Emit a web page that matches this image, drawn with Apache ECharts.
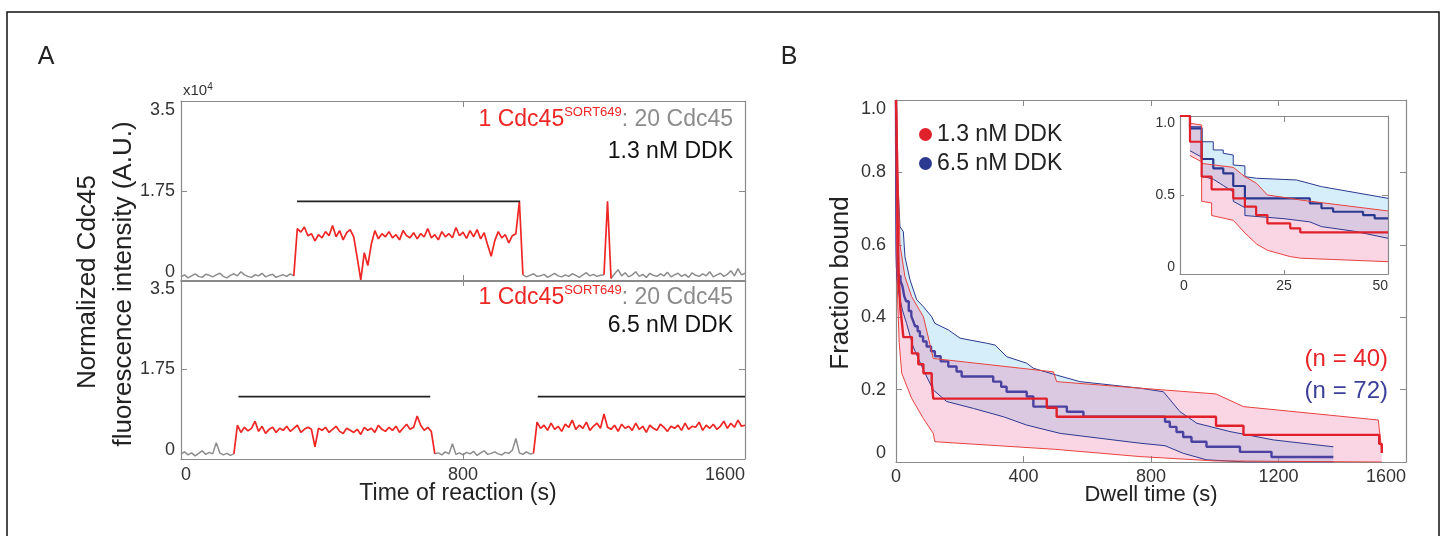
<!DOCTYPE html>
<html><head><meta charset="utf-8">
<script src="https://cdn.jsdelivr.net/npm/echarts@6/dist/echarts.min.js"></script>
<style>html,body{margin:0;padding:0;background:#fff}#c{width:1444px;height:536px}</style>
</head><body><div id="c"></div>
<script>
// ---------------- DATA ----------------
// Panel A: intensity traces (x10^4 A.U.), one value every SAMPLE_STEP seconds from t = 0
const SAMPLE_STEP = 10;
const topTrace = [
  0.08,0.12,0.06,0.10,0.14,0.09,0.07,0.13,0.11,0.08,
  0.12,0.15,0.09,0.06,0.11,0.14,0.10,0.18,0.12,0.09,
  0.07,0.12,0.10,0.15,0.08,0.11,0.13,0.07,0.10,0.12,
  0.09,0.14,0.10,1.02,0.95,1.05,0.88,0.92,0.78,0.90,
  0.84,0.96,0.88,1.08,0.86,0.98,0.80,0.94,1.00,0.86,
  0.45,0.02,0.55,0.30,0.72,0.98,0.82,0.92,0.86,0.96,
  0.84,0.90,0.80,0.98,0.88,0.84,0.94,0.82,0.92,0.86,
  1.02,0.84,0.90,0.80,0.96,0.86,0.92,0.84,1.04,0.88,
  0.95,0.83,0.98,0.86,1.00,0.82,0.94,0.70,0.48,0.78,
  0.96,0.84,0.90,0.74,0.88,0.92,1.55,0.12,0.08,0.11,
  0.14,0.09,0.10,0.13,0.07,0.11,0.15,0.10,0.08,0.12,
  0.09,0.14,0.11,0.07,0.12,0.16,0.10,0.13,0.09,0.11,
  0.12,1.55,0.05,0.14,0.22,0.10,0.16,0.08,0.12,0.18,
  0.09,0.13,0.07,0.15,0.11,0.09,0.14,0.10,0.17,0.08,
  0.12,0.15,0.09,0.13,0.07,0.16,0.11,0.09,0.14,0.10,
  0.18,0.08,0.12,0.15,0.09,0.13,0.20,0.10,0.24,0.12,
  0.15
];
const bottomTrace = [
  0.10,0.14,0.08,0.12,0.06,0.11,0.16,0.09,0.13,0.10,
  0.32,0.12,0.08,0.11,0.07,0.10,0.66,0.52,0.62,0.55,
  0.60,0.74,0.54,0.64,0.50,0.58,0.62,0.52,0.60,0.56,
  0.64,0.54,0.60,0.66,0.52,0.58,0.62,0.58,0.24,0.60,
  0.56,0.62,0.52,0.58,0.64,0.54,0.50,0.60,0.56,0.52,
  0.58,0.48,0.62,0.56,0.60,0.52,0.66,0.58,0.54,0.62,
  0.56,0.64,0.52,0.60,0.68,0.58,0.62,0.84,0.66,0.56,
  0.62,0.54,0.10,0.12,0.08,0.14,0.10,0.30,0.09,0.12,
  0.08,0.13,0.10,0.15,0.07,0.12,0.16,0.09,0.11,0.14,
  0.10,0.08,0.13,0.11,0.17,0.40,0.12,0.09,0.14,0.10,
  0.11,0.72,0.60,0.66,0.56,0.70,0.58,0.64,0.54,0.68,
  0.62,0.76,0.58,0.66,0.60,0.72,0.56,0.64,0.70,0.60,
  0.88,0.62,0.58,0.66,0.54,0.68,0.60,0.64,0.56,0.70,
  0.58,0.64,0.52,0.66,0.60,0.56,0.68,0.62,0.54,0.64,
  0.60,0.66,0.56,0.70,0.58,0.64,0.62,0.72,0.56,0.66,
  0.60,0.68,0.58,0.64,0.74,0.60,0.70,0.62,0.76,0.64,
  0.66
];
// index ranges (inclusive) of the samples drawn in red (labelled Cdc45)
const topRedRanges = [[33, 96], [121, 121]];
const bottomRedRanges = [[16, 71], [101, 160]];
// dwell bars: [start s, end s, height]
const topBars = [[329, 962, 1.55]];
const bottomBars = [[163, 707, 1.22], [1012, 1600, 1.22]];
const aTimeTicks = [0, 800, 1600];
const aIntensityTicks = [0, 1.75, 3.5];

// Panel B: survival (fraction bound) vs dwell time (s)
const redKm = [[0,1.0],[3,0.85],[6,0.62],[9,0.5],[14,0.42],[18,0.39],[23,0.345],[50,0.3],[70,0.27],[86,0.245],[112,0.22],[117,0.175],[473,0.15],[504,0.125],[1004,0.1],[1090,0.075],[1516,0.05],[1524,0.025]];
const redUpper = [[0,1.0],[3,0.96],[6,0.8],[12.5,0.6],[28,0.512],[49,0.457],[86,0.401],[117,0.286],[494,0.249],[504,0.222],[765,0.204],[1004,0.188],[1090,0.153],[1513,0.116],[1524,0.03]];
const redLower = [[0,0.9],[2,0.6],[5,0.45],[10,0.33],[18,0.245],[49,0.176],[86,0.12],[117,0.079],[122,0.056],[500,0.035],[765,0.015],[1000,0.003],[1524,0]];
const blueKm = [[0,1.0],[0.5,0.85],[1,0.7],[2,0.58],[3,0.54],[6,0.514],[14,0.5],[20,0.486],[26,0.458],[32,0.444],[40,0.417],[48,0.403],[54,0.389],[60,0.375],[68,0.361],[75,0.347],[85,0.333],[96,0.319],[110,0.306],[122,0.292],[140,0.278],[164,0.264],[190,0.25],[206,0.236],[305,0.222],[330,0.208],[347,0.194],[410,0.181],[431,0.153],[536,0.139],[588,0.125],[844,0.111],[859,0.097],[880,0.083],[901,0.069],[927,0.056],[974,0.042],[1079,0.028],[1178,0.014],[1372,0.014]];
const blueUpper = [[0,1.0],[2,0.853],[7,0.751],[12.5,0.65],[23,0.636],[28,0.567],[44,0.503],[65,0.448],[86,0.429],[112,0.401],[122,0.383],[164,0.365],[201,0.342],[285,0.328],[311,0.323],[347,0.291],[410,0.273],[431,0.259],[504,0.24],[577,0.222],[765,0.204],[839,0.194],[891,0.139],[944,0.107],[1048,0.084],[1184,0.061],[1372,0.042]];
const blueLower = [[0,0.95],[1,0.6],[2,0.512],[10,0.46],[20,0.42],[33,0.383],[54,0.318],[86,0.254],[117,0.199],[159,0.167],[243,0.148],[337,0.125],[410,0.102],[515,0.079],[765,0.052],[844,0.045],[901,0.024],[974,0.006],[1100,0],[1372,0]];
const bTimeTicks = [0, 400, 800, 1200, 1600];
const bFracTicks = [0, 0.2, 0.4, 0.6, 0.8, 1.0];

// Inset: first 50 s
const insetRedKm = [[0,1.0],[2.4,0.837],[5.2,0.616],[7.6,0.536],[12.8,0.479],[15.6,0.426],[18.3,0.373],[21,0.32],[26.5,0.289],[28.9,0.264],[50,0.264]];
const insetRedUpper = [[2.4,0.954],[5.2,0.943],[5.2,0.70],[12.8,0.675],[15.6,0.616],[18.4,0.574],[21,0.5],[26.5,0.479],[29,0.468],[50,0.399]];
const insetRedLower = [[2.4,0.75],[5.2,0.71],[5.2,0.46],[7.6,0.45],[7.6,0.37],[12.8,0.34],[15.6,0.26],[18.4,0.19],[21,0.15],[26.5,0.11],[29,0.1],[50,0.078]];
const insetBlueKm = [[0,1.0],[2.4,0.922],[5.2,0.728],[8,0.669],[10.4,0.637],[12.8,0.557],[15.6,0.479],[31.2,0.447],[34,0.416],[36.8,0.394],[44,0.373],[46.8,0.352],[50,0.352]];
const insetBlueUpper = [[2.4,0.932],[5.2,0.932],[5.2,0.837],[8,0.837],[8,0.785],[10.4,0.785],[10.4,0.764],[12.8,0.753],[12.8,0.69],[15.6,0.684],[15.6,0.616],[18.4,0.606],[28,0.595],[34,0.553],[50,0.479]];
const insetBlueLower = [[2.4,0.78],[5.2,0.74],[5.2,0.62],[8,0.6],[10.4,0.56],[12.8,0.52],[12.8,0.46],[15.6,0.42],[15.6,0.37],[25,0.35],[31.2,0.33],[34,0.3],[42,0.27],[50,0.226]];
const insetTimeTicks = [0, 25, 50];
const insetFracTicks = [0, 0.5, 1.0];

// ---------------- STYLE ----------------
const FONT = "'Liberation Sans', Arial, sans-serif";
const AX = '#8a8a8a';
const RED = '#ee2624';
const GRAY = '#8c8c8c';
const NAVY = '#2b3990';
const KMBLUE = '#4a41a0';
const KMRED = '#e0202a';
const BLUE_FILL = 'rgba(120,200,240,0.30)';
const PINK_FILL = 'rgba(236,92,150,0.25)';

function splitTrace(vals, ranges) {
  const inRed = i => ranges.some(([a, b]) => i >= a && i <= b);
  const nearRed = i => ranges.some(([a, b]) => i >= a - 1 && i <= b + 1);
  return {
    gray: vals.map((v, i) => [i * SAMPLE_STEP, inRed(i) ? '-' : v]),
    red: vals.map((v, i) => [i * SAMPLE_STEP, nearRed(i) ? v : '-'])
  };
}
function barData(bars) {
  const out = [];
  bars.forEach(([a, b, v], k) => {
    if (k) out.push([a - 1, '-']);
    out.push([a, v], [b, v]);
  });
  return out;
}
const plainFmt = v => String(v);
function axis(grid, pos, min, max, ticks, labelOpt) {
  return {
    type: 'value', gridIndex: grid, position: pos, min, max,
    axisLine: { show: true, onZero: false, lineStyle: { color: AX, width: 1.2 } },
    axisTick: { show: true, inside: true, length: labelOpt && labelOpt.fontSize < 16 ? 4 : 6, customValues: ticks, lineStyle: { color: AX, width: 1 } },
    axisLabel: labelOpt ? Object.assign({ show: true, customValues: ticks, fontFamily: FONT, color: '#333', formatter: plainFmt }, labelOpt) : { show: false },
    splitLine: { show: false }, axisPointer: { show: false }
  };
}
function line(data, color, width, xi, yi, extra) {
  return Object.assign({
    type: 'line', xAxisIndex: xi, yAxisIndex: yi, data, symbol: 'none', showSymbol: false,
    lineStyle: { color, width }, itemStyle: { color }, silent: true, animation: false, clip: true
  }, extra || {});
}
function band(upper, lower, fill, xi, yi) {
  return {
    type: 'custom', xAxisIndex: xi, yAxisIndex: yi, silent: true, clip: true, animation: false,
    data: [[upper[0][0], upper[0][1]]],
    renderItem: (params, api) => ({
      type: 'polygon',
      shape: { points: upper.concat(lower.slice().reverse()).map(p => api.coord(p)) },
      style: { fill }
    })
  };
}
const yFmt1 = v => (v === 0 ? '0' : v.toFixed(1));
const superRich = {
  r: { fontFamily: FONT, fontSize: 23, fill: RED, lineHeight: 28 },
  s: { fontFamily: FONT, fontSize: 13, fill: RED, verticalAlign: 'top', lineHeight: 28 },
  g: { fontFamily: FONT, fontSize: 23, fill: GRAY, lineHeight: 28 }
};

const topSplit = splitTrace(topTrace, topRedRanges);
const botSplit = splitTrace(bottomTrace, bottomRedRanges);

const chart = echarts.init(document.getElementById('c'), null, { renderer: 'canvas' });
chart.setOption({
  backgroundColor: '#fff',
  animation: false,
  grid: [
    { left: 181, top: 101, width: 564, height: 180, outerBoundsMode: 'none' },
    { left: 181, top: 280, width: 564, height: 179, outerBoundsMode: 'none' },
    { left: 896, top: 100, width: 510, height: 362, outerBoundsMode: 'none' },
    { left: 1180, top: 116, width: 208, height: 158, outerBoundsMode: 'none' }
  ],
  xAxis: [
    axis(0, 'bottom', 0, 1600, aTimeTicks, null),
    axis(0, 'top', 0, 1600, aTimeTicks, null),
    axis(1, 'bottom', 0, 1600, aTimeTicks, { fontSize: 18, margin: 7, alignMinLabel: 'left', alignMaxLabel: 'right' }),
    axis(1, 'top', 0, 1600, aTimeTicks, null),
    axis(2, 'bottom', 0, 1600, bTimeTicks, { fontSize: 18, margin: 6, alignMaxLabel: 'right' }),
    axis(2, 'top', 0, 1600, bTimeTicks, null),
    axis(3, 'bottom', 0, 50, insetTimeTicks, { fontSize: 14, margin: 5, alignMinLabel: 'left', alignMaxLabel: 'right' }),
    axis(3, 'top', 0, 50, insetTimeTicks, null)
  ],
  yAxis: [
    axis(0, 'left', 0, 3.5, aIntensityTicks, { fontSize: 18, margin: 6, verticalAlignMinLabel: 'bottom', verticalAlignMaxLabel: 'top' }),
    axis(0, 'right', 0, 3.5, aIntensityTicks, null),
    axis(1, 'left', 0, 3.5, aIntensityTicks, { fontSize: 18, margin: 6, verticalAlignMinLabel: 'bottom', verticalAlignMaxLabel: 'top' }),
    axis(1, 'right', 0, 3.5, aIntensityTicks, null),
    axis(2, 'left', 0, 1, bFracTicks, { fontSize: 18, margin: 10, formatter: yFmt1, verticalAlignMinLabel: 'bottom', verticalAlignMaxLabel: 'top' }),
    axis(2, 'right', 0, 1, bFracTicks, null),
    axis(3, 'left', 0, 1, insetFracTicks, { fontSize: 14, margin: 5, formatter: yFmt1, verticalAlignMinLabel: 'bottom', verticalAlignMaxLabel: 'top' }),
    axis(3, 'right', 0, 1, insetFracTicks, null)
  ],
  legend: {
    data: ['1.3 nM DDK', '6.5 nM DDK'], orient: 'vertical', left: 914, top: 118,
    icon: 'circle', itemWidth: 13, itemHeight: 13, itemGap: 6, selectedMode: false,
    textStyle: { fontFamily: FONT, fontSize: 23, color: '#222' }
  },
  series: [
    // Panel A top
    line(topSplit.gray, GRAY, 1.5, 0, 0),
    line(topSplit.red, RED, 1.7, 0, 0),
    line(barData(topBars), '#222', 1.8, 0, 0),
    // Panel A bottom
    line(botSplit.gray, GRAY, 1.5, 2, 2),
    line(botSplit.red, RED, 1.7, 2, 2),
    line(barData(bottomBars), '#222', 1.8, 2, 2),
    // Panel B main
    band(blueUpper, blueLower, BLUE_FILL, 4, 4),
    line(blueUpper, NAVY, 1, 4, 4),
    line(blueLower, NAVY, 1, 4, 4),
    line(blueKm, KMBLUE, 2.4, 4, 4, { name: '6.5 nM DDK', step: 'end', itemStyle: { color: NAVY } }),
    band(redUpper, redLower, PINK_FILL, 4, 4),
    line(redUpper, '#e8423e', 1, 4, 4),
    line(redLower, '#e8423e', 1, 4, 4),
    line(redKm, KMRED, 2.4, 4, 4, { name: '1.3 nM DDK', step: 'end' }),
    // Inset
    band(insetBlueUpper, insetBlueLower, BLUE_FILL, 6, 6),
    line(insetBlueUpper, NAVY, 1, 6, 6),
    line(insetBlueLower, NAVY, 1, 6, 6),
    line(insetBlueKm, NAVY, 2.2, 6, 6, { step: 'end' }),
    band(insetRedUpper, insetRedLower, PINK_FILL, 6, 6),
    line(insetRedUpper, '#e8423e', 1, 6, 6),
    line(insetRedLower, '#e8423e', 1, 6, 6),
    line(insetRedKm, KMRED, 2.2, 6, 6, { step: 'end' })
  ],
  graphic: [
    { type: 'polyline', silent: true, shape: { points: [[7, 536], [7, 12], [1439, 12], [1439, 536]] }, style: { stroke: '#111', lineWidth: 1.5, fill: null } },
    { type: 'text', x: 46, y: 57, style: { text: 'A', font: '25px ' + FONT, fill: '#222', align: 'center', verticalAlign: 'middle' } },
    { type: 'text', x: 789, y: 57, style: { text: 'B', font: '25px ' + FONT, fill: '#222', align: 'center', verticalAlign: 'middle' } },
    { type: 'text', x: 183, y: 91, style: { text: '{a|x10}{b|4}', align: 'left', verticalAlign: 'middle',
        rich: { a: { fontFamily: FONT, fontSize: 15, fill: '#333', lineHeight: 18 }, b: { fontFamily: FONT, fontSize: 10, fill: '#333', verticalAlign: 'top', lineHeight: 18 } } } },
    { type: 'text', x: 88, y: 282, rotation: Math.PI / 2, style: { text: 'Normalized Cdc45', font: '26px ' + FONT, fill: '#222', align: 'center', verticalAlign: 'middle' } },
    { type: 'text', x: 124, y: 284, rotation: Math.PI / 2, style: { text: 'fluorescence intensity (A.U.)', font: '26px ' + FONT, fill: '#222', align: 'center', verticalAlign: 'middle' } },
    { type: 'text', x: 458, y: 494, style: { text: 'Time of reaction (s)', font: '23px ' + FONT, fill: '#222', align: 'center', verticalAlign: 'middle' } },
    { type: 'text', x: 733, y: 120, style: { text: '{r|1 Cdc45}{s|SORT649}{g|: 20 Cdc45}', align: 'right', verticalAlign: 'middle', rich: superRich } },
    { type: 'text', x: 733, y: 152, style: { text: '1.3 nM DDK', font: '23px ' + FONT, fill: '#111', align: 'right', verticalAlign: 'middle' } },
    { type: 'text', x: 733, y: 298, style: { text: '{r|1 Cdc45}{s|SORT649}{g|: 20 Cdc45}', align: 'right', verticalAlign: 'middle', rich: superRich } },
    { type: 'text', x: 733, y: 326, style: { text: '6.5 nM DDK', font: '23px ' + FONT, fill: '#111', align: 'right', verticalAlign: 'middle' } },
    { type: 'text', x: 841, y: 283, rotation: Math.PI / 2, style: { text: 'Fraction bound', font: '26px ' + FONT, fill: '#222', align: 'center', verticalAlign: 'middle' } },
    { type: 'text', x: 1151, y: 495, style: { text: 'Dwell time (s)', font: '22px ' + FONT, fill: '#222', align: 'center', verticalAlign: 'middle' } },
    { type: 'text', x: 1388, y: 359, style: { text: '(n = 40)', font: '24px ' + FONT, fill: '#e8262a', align: 'right', verticalAlign: 'middle' } },
    { type: 'text', x: 1388, y: 391, style: { text: '(n = 72)', font: '24px ' + FONT, fill: '#3b3f98', align: 'right', verticalAlign: 'middle' } }
  ]
});
</script>
</body></html>
